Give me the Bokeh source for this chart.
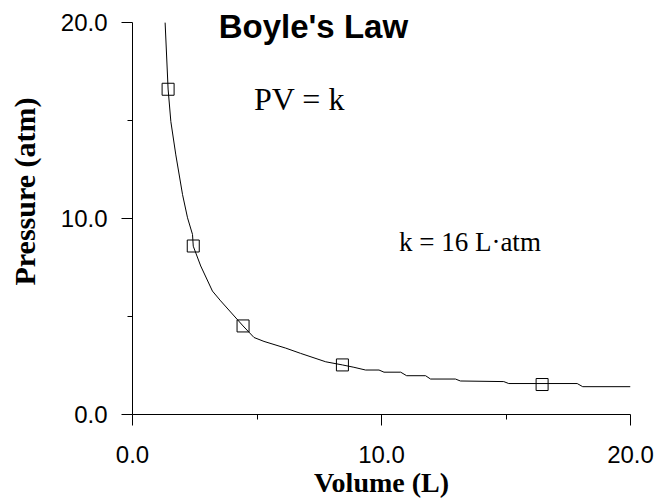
from bokeh.plotting import figure
from bokeh.models import Range1d, FixedTicker, PrintfTickFormatter, Label, Title
from bokeh.embed import file_html
from bokeh.resources import INLINE

# Fitted curve
volume_curve = [1.31, 1.43, 1.54, 1.74, 2.01, 2.21, 2.41, 2.44, 2.74, 3.21, 3.54, 4.44,
                4.88, 5.28, 6.15, 6.75, 7.76, 8.43, 8.89, 9.36, 9.90, 10.10, 10.77, 11.01,
                11.77, 11.97, 12.97, 13.17, 14.91, 15.11, 17.86, 18.08, 20.0]
pressure_curve = [20.0, 16.61, 14.95, 13.25, 11.22, 10.04, 9.19, 8.59, 7.58, 6.30, 5.80, 4.52,
                  3.93, 3.73, 3.39, 3.12, 2.69, 2.53, 2.41, 2.27, 2.27, 2.16, 2.16, 1.98,
                  1.98, 1.81, 1.81, 1.71, 1.68, 1.58, 1.58, 1.42, 1.42]

# Measured points
volume_pts = [1.43, 2.44, 4.44, 8.43, 16.45]
pressure_pts = [16.6, 8.6, 4.52, 2.53, 1.53]

major_ticks = [0, 10, 20]
minor_ticks = [5, 15]

title_text = "Boyle's Law"
eq_text = "PV = k"
k_text = "k = 16 L·atm"
x_label = "Volume (L)"
y_label = "Pressure (atm)"

# the y range reaches a little above 20 so that the title text is not clipped;
# the axis itself is bounded to 0..20
p = figure(width=654, height=500, x_range=Range1d(0, 20), y_range=Range1d(0, 21.13),
           output_backend="svg", toolbar_location=None,
           min_border_left=132, min_border_right=24, min_border_top=0, min_border_bottom=84)
p.outline_line_color = None
p.xgrid.visible = False
p.ygrid.visible = False
p.background_fill_color = "white"
p.border_fill_color = "white"

for ax, standoff in ((p.xaxis[0], 20), (p.yaxis[0], 14)):
    ax.ticker = FixedTicker(ticks=major_ticks, minor_ticks=minor_ticks)
    ax.formatter = PrintfTickFormatter(format="%.1f")
    ax.bounds = (0, 20)
    ax.major_tick_out = 11
    ax.major_tick_in = 0
    ax.minor_tick_out = 5
    ax.minor_tick_in = 0
    ax.axis_line_color = "black"
    ax.major_tick_line_color = "black"
    ax.minor_tick_line_color = "black"
    ax.major_label_text_font = "Liberation Sans"
    ax.major_label_text_font_size = "24px"
    ax.major_label_text_color = "black"
    ax.major_label_standoff = standoff

p.xaxis.axis_label = x_label
p.xaxis.axis_label_text_font = "Liberation Serif"
p.xaxis.axis_label_text_font_style = "bold"
p.xaxis.axis_label_text_font_size = "28px"
p.xaxis.axis_label_text_color = "black"
p.xaxis.axis_label_standoff = 1

# small gap between the y tick labels and the y title
p.yaxis.axis_label = "\u200a"
p.yaxis.axis_label_text_font_size = "1px"
p.yaxis.axis_label_standoff = 8

ytitle = Title(text=y_label, align="left", offset=129, text_font="Liberation Serif",
               text_font_style="bold", text_font_size="30px", text_color="black")
p.add_layout(ytitle, "left")

p.line(volume_curve, pressure_curve, line_color="black", line_width=1)
p.scatter(volume_pts, pressure_pts, marker="square", size=12, line_color="black",
          line_width=1, fill_alpha=0)

p.add_layout(Label(x=3.46, y=19.78, text=title_text, text_font="Liberation Sans",
                   text_font_style="bold", text_font_size="33px", text_align="left",
                   text_baseline="alphabetic", text_color="black"))
p.add_layout(Label(x=4.88, y=16.09, text=eq_text, text_font="Liberation Serif",
                   text_font_size="32px", text_align="left",
                   text_baseline="alphabetic", text_color="black"))
p.add_layout(Label(x=10.70, y=8.80, text=k_text, text_font="Liberation Serif",
                   text_font_size="27px", text_align="left",
                   text_baseline="alphabetic", text_color="black"))

open("out.html", "w").write(file_html(p, INLINE))
